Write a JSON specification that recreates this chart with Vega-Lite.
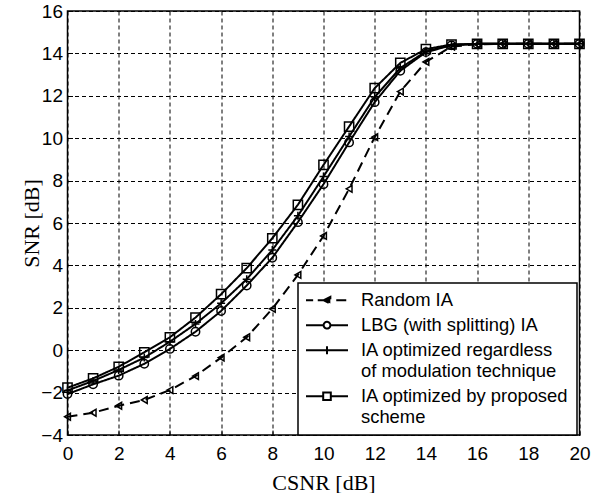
{
  "$schema": "https://vega.github.io/schema/vega-lite/v6.json",
  "width": 512,
  "height": 424,
  "autosize": "none",
  "padding": {"left": 67.5, "top": 11, "right": 19.5, "bottom": 58},
  "background": "white",
  "config": {
    "view": {"stroke": "black", "strokeWidth": 1.5},
    "font": "Liberation Sans",
    "axis": {
      "grid": true,
      "gridColor": "black",
      "gridDash": [4, 3],
      "gridWidth": 1,
      "gridOpacity": 1,
      "ticks": true,
      "tickSize": -5,
      "tickColor": "black",
      "tickWidth": 1,
      "domain": false,
      "labelFont": "Liberation Sans",
      "labelFontSize": 19,
      "labelColor": "black",
      "labelFlush": false,
      "labelOverlap": false,
      "titleFont": "Liberation Serif",
      "titleFontSize": 22,
      "titleFontWeight": "normal",
      "titleColor": "black"
    }
  },
  "data": {
    "values": [
      {"series": "Random IA", "x": 0, "y": -3.14},
      {"series": "Random IA", "x": 1, "y": -2.95},
      {"series": "Random IA", "x": 2, "y": -2.62},
      {"series": "Random IA", "x": 3, "y": -2.35},
      {"series": "Random IA", "x": 4, "y": -1.88},
      {"series": "Random IA", "x": 5, "y": -1.22},
      {"series": "Random IA", "x": 6, "y": -0.35},
      {"series": "Random IA", "x": 7, "y": 0.61},
      {"series": "Random IA", "x": 8, "y": 1.95},
      {"series": "Random IA", "x": 9, "y": 3.55},
      {"series": "Random IA", "x": 10, "y": 5.39},
      {"series": "Random IA", "x": 11, "y": 7.61},
      {"series": "Random IA", "x": 12, "y": 10.05},
      {"series": "Random IA", "x": 13, "y": 12.2},
      {"series": "Random IA", "x": 14, "y": 13.6},
      {"series": "Random IA", "x": 15, "y": 14.32},
      {"series": "Random IA", "x": 16, "y": 14.43},
      {"series": "Random IA", "x": 17, "y": 14.45},
      {"series": "Random IA", "x": 18, "y": 14.45},
      {"series": "Random IA", "x": 19, "y": 14.45},
      {"series": "Random IA", "x": 20, "y": 14.45},
      {"series": "LBG (with splitting) IA", "x": 0, "y": -2.07},
      {"series": "LBG (with splitting) IA", "x": 1, "y": -1.61},
      {"series": "LBG (with splitting) IA", "x": 2, "y": -1.2},
      {"series": "LBG (with splitting) IA", "x": 3, "y": -0.64},
      {"series": "LBG (with splitting) IA", "x": 4, "y": 0.06},
      {"series": "LBG (with splitting) IA", "x": 5, "y": 0.87},
      {"series": "LBG (with splitting) IA", "x": 6, "y": 1.85},
      {"series": "LBG (with splitting) IA", "x": 7, "y": 3.05},
      {"series": "LBG (with splitting) IA", "x": 8, "y": 4.36},
      {"series": "LBG (with splitting) IA", "x": 9, "y": 6.04},
      {"series": "LBG (with splitting) IA", "x": 10, "y": 7.83},
      {"series": "LBG (with splitting) IA", "x": 11, "y": 9.8},
      {"series": "LBG (with splitting) IA", "x": 12, "y": 11.7},
      {"series": "LBG (with splitting) IA", "x": 13, "y": 13.18},
      {"series": "LBG (with splitting) IA", "x": 14, "y": 14.06},
      {"series": "LBG (with splitting) IA", "x": 15, "y": 14.38},
      {"series": "LBG (with splitting) IA", "x": 16, "y": 14.45},
      {"series": "LBG (with splitting) IA", "x": 17, "y": 14.45},
      {"series": "LBG (with splitting) IA", "x": 18, "y": 14.45},
      {"series": "LBG (with splitting) IA", "x": 19, "y": 14.45},
      {"series": "LBG (with splitting) IA", "x": 20, "y": 14.45},
      {"series": "IA optimized regardless of modulation technique", "x": 0, "y": -1.9},
      {"series": "IA optimized regardless of modulation technique", "x": 1, "y": -1.45},
      {"series": "IA optimized regardless of modulation technique", "x": 2, "y": -0.93},
      {"series": "IA optimized regardless of modulation technique", "x": 3, "y": -0.35},
      {"series": "IA optimized regardless of modulation technique", "x": 4, "y": 0.4},
      {"series": "IA optimized regardless of modulation technique", "x": 5, "y": 1.24},
      {"series": "IA optimized regardless of modulation technique", "x": 6, "y": 2.21},
      {"series": "IA optimized regardless of modulation technique", "x": 7, "y": 3.35},
      {"series": "IA optimized regardless of modulation technique", "x": 8, "y": 4.73},
      {"series": "IA optimized regardless of modulation technique", "x": 9, "y": 6.34},
      {"series": "IA optimized regardless of modulation technique", "x": 10, "y": 8.19},
      {"series": "IA optimized regardless of modulation technique", "x": 11, "y": 10.08},
      {"series": "IA optimized regardless of modulation technique", "x": 12, "y": 11.94},
      {"series": "IA optimized regardless of modulation technique", "x": 13, "y": 13.31},
      {"series": "IA optimized regardless of modulation technique", "x": 14, "y": 14.09},
      {"series": "IA optimized regardless of modulation technique", "x": 15, "y": 14.4},
      {"series": "IA optimized regardless of modulation technique", "x": 16, "y": 14.45},
      {"series": "IA optimized regardless of modulation technique", "x": 17, "y": 14.45},
      {"series": "IA optimized regardless of modulation technique", "x": 18, "y": 14.45},
      {"series": "IA optimized regardless of modulation technique", "x": 19, "y": 14.45},
      {"series": "IA optimized regardless of modulation technique", "x": 20, "y": 14.45},
      {"series": "IA optimized by proposed scheme", "x": 0, "y": -1.77},
      {"series": "IA optimized by proposed scheme", "x": 1, "y": -1.33},
      {"series": "IA optimized by proposed scheme", "x": 2, "y": -0.78},
      {"series": "IA optimized by proposed scheme", "x": 3, "y": -0.1},
      {"series": "IA optimized by proposed scheme", "x": 4, "y": 0.61},
      {"series": "IA optimized by proposed scheme", "x": 5, "y": 1.54},
      {"series": "IA optimized by proposed scheme", "x": 6, "y": 2.64},
      {"series": "IA optimized by proposed scheme", "x": 7, "y": 3.87},
      {"series": "IA optimized by proposed scheme", "x": 8, "y": 5.28},
      {"series": "IA optimized by proposed scheme", "x": 9, "y": 6.86},
      {"series": "IA optimized by proposed scheme", "x": 10, "y": 8.74},
      {"series": "IA optimized by proposed scheme", "x": 11, "y": 10.55},
      {"series": "IA optimized by proposed scheme", "x": 12, "y": 12.36},
      {"series": "IA optimized by proposed scheme", "x": 13, "y": 13.55},
      {"series": "IA optimized by proposed scheme", "x": 14, "y": 14.2},
      {"series": "IA optimized by proposed scheme", "x": 15, "y": 14.42},
      {"series": "IA optimized by proposed scheme", "x": 16, "y": 14.45},
      {"series": "IA optimized by proposed scheme", "x": 17, "y": 14.45},
      {"series": "IA optimized by proposed scheme", "x": 18, "y": 14.45},
      {"series": "IA optimized by proposed scheme", "x": 19, "y": 14.45},
      {"series": "IA optimized by proposed scheme", "x": 20, "y": 14.45}
    ]
  },
  "encoding": {
    "x": {
      "field": "x",
      "type": "quantitative",
      "scale": {"domain": [0, 20], "nice": false, "zero": false},
      "axis": {
        "values": [0, 2, 4, 6, 8, 10, 12, 14, 16, 18, 20],
        "labelPadding": 14,
        "title": "CSNR [dB]",
        "titleBaseline": "alphabetic",
        "titleY": 54
      }
    },
    "y": {
      "field": "y",
      "type": "quantitative",
      "scale": {"domain": [-4, 16], "nice": false, "zero": false},
      "axis": {
        "values": [-4, -2, 0, 2, 4, 6, 8, 10, 12, 14, 16],
        "labelPadding": 10,
        "title": "SNR [dB]",
        "titleAngle": -90,
        "titleAlign": "center",
        "titleBaseline": "alphabetic",
        "titleX": -29,
        "titleY": 212
      }
    }
  },
  "layer": [
    {
      "mark": {"type": "line", "color": "black", "strokeWidth": 2},
      "encoding": {
        "strokeDash": {
          "field": "series",
          "type": "nominal",
          "scale": {
            "domain": ["Random IA", "LBG (with splitting) IA", "IA optimized regardless of modulation technique", "IA optimized by proposed scheme"],
            "range": [[10, 6], [1, 0], [1, 0], [1, 0]]
          },
          "legend": {
            "title": null,
            "orient": "none",
            "legendX": 230.5,
            "legendY": 272,
            "padding": 8,
            "rowPadding": 6,
            "labelFont": "Liberation Sans",
            "labelFontSize": 18.4,
            "labelColor": "black",
            "labelLimit": 400,
            "symbolSize": 100,
            "symbolOffset": 11.8,
            "labelOffset": 24.8,
            "symbolStrokeWidth": 2,
            "symbolStrokeColor": "black",
            "strokeColor": "black",
            "fillColor": "white",
            "labelExpr": "datum.label == 'IA optimized regardless of modulation technique' ? ['IA optimized regardless', 'of modulation technique'] : datum.label == 'IA optimized by proposed scheme' ? ['IA optimized by proposed', 'scheme'] : datum.label",
            "encode": {
              "symbols": {
                "update": {
                  "shape": {"signal": "datum.value == 'Random IA' ? 'M-4.2,0H-2.77M-1.85,0H-0.67M1.85,0H4.2M-0.67,0L0.67,-0.67L0.67,0.67Z' : datum.value == 'LBG (with splitting) IA' ? 'M-4.2,0H-0.67M0.67,0H4.2M-0.67,0A0.67,0.67 0 1,1 0.67,0A0.67,0.67 0 1,1 -0.67,0Z' : datum.value == 'IA optimized regardless of modulation technique' ? 'M-4.2,0H4.2M0,-0.8V0.8' : 'M-4.2,0H-0.76M0.76,0H4.2M-0.76,-0.76H0.76V0.76H-0.76Z'"},
                  "fill": {"signal": "datum.value == 'Random IA' ? 'black' : 'white'"},
                  "fillOpacity": {"value": 1},
                  "stroke": {"value": "black"},
                  "strokeDash": {"value": [1, 0]},
                  "strokeWidth": {"value": 2},
                  "opacity": {"value": 1}
                }
              },
              "labels": {
                "update": {
                  "lineHeight": {"value": 20.5}
                }
              },
              "legend": {"update": {"strokeWidth": {"value": 1.5}}}
            }
          }
        }
      }
    },
    {
      "transform": [{"filter": "datum.series == 'Random IA'"}],
      "mark": {"type": "point", "shape": "triangle-left", "size": 45, "filled": false, "color": "black", "strokeWidth": 1.5, "opacity": 1}
    },
    {
      "transform": [{"filter": "datum.series == 'LBG (with splitting) IA'"}],
      "mark": {"type": "point", "shape": "circle", "size": 70, "filled": false, "color": "black", "strokeWidth": 1.5, "opacity": 1}
    },
    {
      "transform": [{"filter": "datum.series == 'IA optimized regardless of modulation technique'"}],
      "mark": {"type": "point", "shape": "M-1,0H1M0,-1V1", "size": 64, "filled": false, "color": "black", "strokeWidth": 1.5, "opacity": 1}
    },
    {
      "transform": [{"filter": "datum.series == 'IA optimized by proposed scheme'"}],
      "mark": {"type": "point", "shape": "square", "size": 85, "filled": false, "color": "black", "strokeWidth": 1.5, "opacity": 1}
    }
  ]
}
